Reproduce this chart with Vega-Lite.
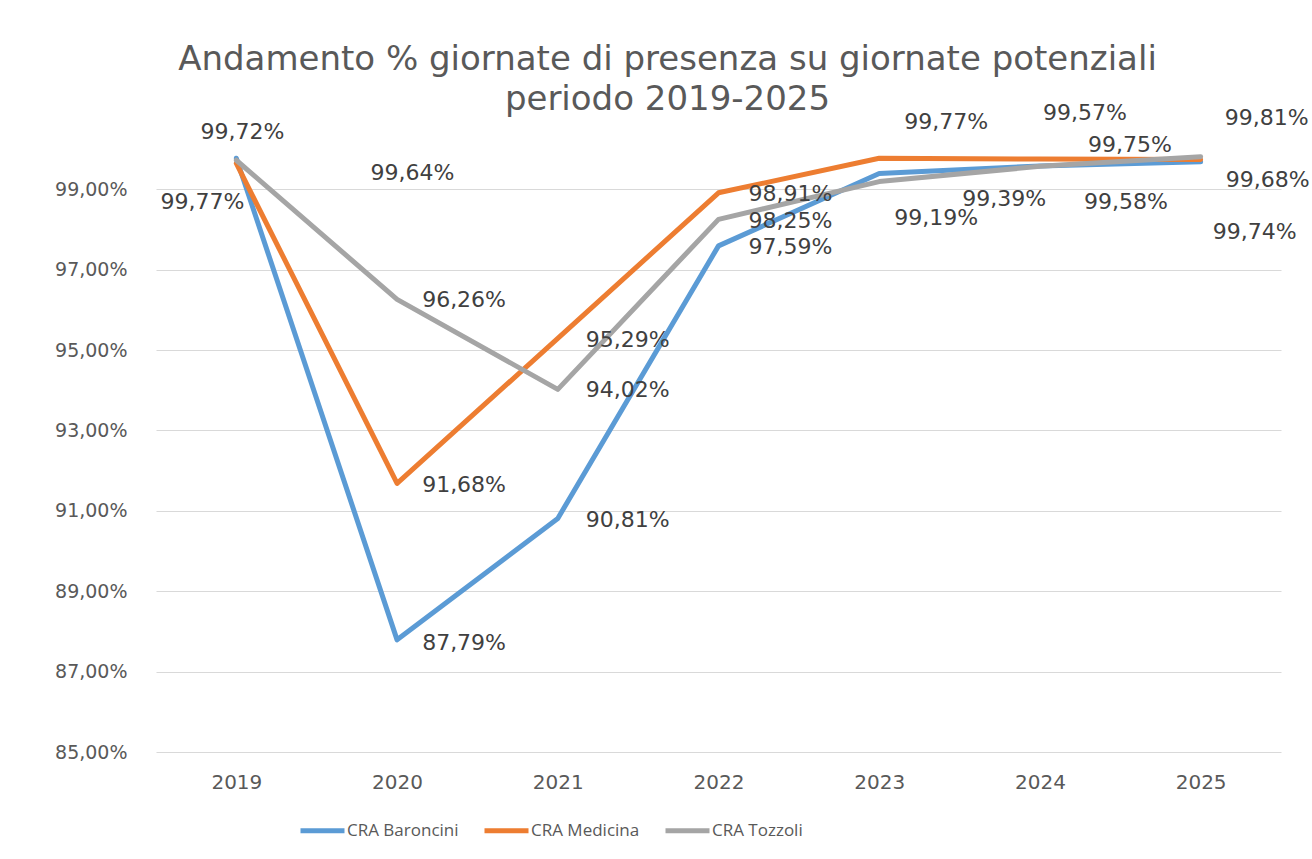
{
  "$schema": "https://vega.github.io/schema/vega-lite/v6.json",
  "autosize": {"type": "none"},
  "width": 1125,
  "height": 603,
  "padding": {"left": 156, "top": 149, "right": 31, "bottom": 107},
  "background": "white",
  "config": {
    "locale": {"number": {"decimal": ",", "thousands": ".", "grouping": [3], "currency": ["", " €"]}},
    "view": {"stroke": null},
    "font": "DejaVu Sans"
  },
  "title": {
    "text": ["Andamento % giornate di presenza su giornate potenziali", "periodo 2019-2025"],
    "fontSize": 34,
    "fontWeight": "normal",
    "color": "#595959",
    "font": "DejaVu Sans",
    "anchor": "middle",
    "frame": "group",
    "dx": -51,
    "dy": 79,
    "lineHeight": 40,
    "baseline": "bottom",
    "offset": 30
  },
  "data": {
    "values": [
      {"anno": "2019", "serie": "CRA Baroncini", "valore": 0.9977},
      {"anno": "2020", "serie": "CRA Baroncini", "valore": 0.8779},
      {"anno": "2021", "serie": "CRA Baroncini", "valore": 0.9081},
      {"anno": "2022", "serie": "CRA Baroncini", "valore": 0.9759},
      {"anno": "2023", "serie": "CRA Baroncini", "valore": 0.9939},
      {"anno": "2024", "serie": "CRA Baroncini", "valore": 0.9958},
      {"anno": "2025", "serie": "CRA Baroncini", "valore": 0.9968},
      {"anno": "2019", "serie": "CRA Medicina", "valore": 0.9964},
      {"anno": "2020", "serie": "CRA Medicina", "valore": 0.9168},
      {"anno": "2021", "serie": "CRA Medicina", "valore": 0.9529},
      {"anno": "2022", "serie": "CRA Medicina", "valore": 0.9891},
      {"anno": "2023", "serie": "CRA Medicina", "valore": 0.9977},
      {"anno": "2024", "serie": "CRA Medicina", "valore": 0.9975},
      {"anno": "2025", "serie": "CRA Medicina", "valore": 0.9974},
      {"anno": "2019", "serie": "CRA Tozzoli", "valore": 0.9972},
      {"anno": "2020", "serie": "CRA Tozzoli", "valore": 0.9626},
      {"anno": "2021", "serie": "CRA Tozzoli", "valore": 0.9402},
      {"anno": "2022", "serie": "CRA Tozzoli", "valore": 0.9825},
      {"anno": "2023", "serie": "CRA Tozzoli", "valore": 0.9919},
      {"anno": "2024", "serie": "CRA Tozzoli", "valore": 0.9957},
      {"anno": "2025", "serie": "CRA Tozzoli", "valore": 0.9981}
    ]
  },
  "encoding": {
    "x": {
      "field": "anno", "type": "ordinal",
      "scale": {"type": "point", "padding": 0.5},
      "axis": {"title": null, "labelAngle": 0, "domain": false, "ticks": false, "labelFontSize": 20, "labelColor": "#595959", "labelPadding": 20, "labelFont": "DejaVu Sans"}
    },
    "y": {
      "field": "valore", "type": "quantitative",
      "scale": {"domain": [0.85, 1.0], "nice": false, "zero": false},
      "axis": {"title": null, "values": [0.85, 0.87, 0.89, 0.91, 0.93, 0.95, 0.97, 0.99], "format": ".2%", "domain": false, "ticks": false, "labelFontSize": 19, "labelColor": "#595959", "labelPadding": 29, "labelFont": "DejaVu Sans", "gridColor": "#d9d9d9", "gridWidth": 1}
    }
  },
  "layer": [
    {
      "mark": {"type": "line", "strokeWidth": 5, "strokeJoin": "round", "strokeCap": "round"},
      "encoding": {
        "color": {
          "field": "serie", "type": "nominal",
          "scale": {"domain": ["CRA Baroncini", "CRA Medicina", "CRA Tozzoli"], "range": ["#5B9BD5", "#ED7D31", "#A5A5A5"]},
          "legend": {"title": null, "orient": "none", "direction": "horizontal", "legendX": 142, "legendY": 657, "symbolType": "stroke", "symbolSize": 1936, "symbolStrokeWidth": 5, "labelFontSize": 17, "labelColor": "#595959", "labelFont": "Open Sans", "labelOffset": 0, "columnPadding": 15}
        }
      }
    },
    {"transform": [{"filter": "datum.serie==='CRA Baroncini' && datum.anno==='2019'"}], "mark": {"type": "text", "dx": -34, "dy": 44, "fontSize": 22, "color": "#404040"}, "encoding": {"text": {"field": "valore", "format": ".2%"}}},
    {"transform": [{"filter": "datum.serie==='CRA Baroncini' && datum.anno==='2020'"}], "mark": {"type": "text", "dx": 67, "dy": 3, "fontSize": 22, "color": "#404040"}, "encoding": {"text": {"field": "valore", "format": ".2%"}}},
    {"transform": [{"filter": "datum.serie==='CRA Baroncini' && datum.anno==='2021'"}], "mark": {"type": "text", "dx": 70, "dy": 2, "fontSize": 22, "color": "#404040"}, "encoding": {"text": {"field": "valore", "format": ".2%"}}},
    {"transform": [{"filter": "datum.serie==='CRA Baroncini' && datum.anno==='2022'"}], "mark": {"type": "text", "dx": 72, "dy": 1, "fontSize": 22, "color": "#404040"}, "encoding": {"text": {"field": "valore", "format": ".2%"}}},
    {"transform": [{"filter": "datum.serie==='CRA Baroncini' && datum.anno==='2023'"}], "mark": {"type": "text", "dx": 125, "dy": 25, "fontSize": 22, "color": "#404040"}, "encoding": {"text": {"field": "valore", "format": ".2%"}}},
    {"transform": [{"filter": "datum.serie==='CRA Baroncini' && datum.anno==='2024'"}], "mark": {"type": "text", "dx": 86, "dy": 36, "fontSize": 22, "color": "#404040"}, "encoding": {"text": {"field": "valore", "format": ".2%"}}},
    {"transform": [{"filter": "datum.serie==='CRA Baroncini' && datum.anno==='2025'"}], "mark": {"type": "text", "dx": 67, "dy": 18, "fontSize": 22, "color": "#404040"}, "encoding": {"text": {"field": "valore", "format": ".2%"}}},
    {"transform": [{"filter": "datum.serie==='CRA Medicina' && datum.anno==='2019'"}], "mark": {"type": "text", "dx": 176, "dy": 10, "fontSize": 22, "color": "#404040"}, "encoding": {"text": {"field": "valore", "format": ".2%"}}},
    {"transform": [{"filter": "datum.serie==='CRA Medicina' && datum.anno==='2020'"}], "mark": {"type": "text", "dx": 67, "dy": 2, "fontSize": 22, "color": "#404040"}, "encoding": {"text": {"field": "valore", "format": ".2%"}}},
    {"transform": [{"filter": "datum.serie==='CRA Medicina' && datum.anno==='2021'"}], "mark": {"type": "text", "dx": 70, "dy": 2, "fontSize": 22, "color": "#404040"}, "encoding": {"text": {"field": "valore", "format": ".2%"}}},
    {"transform": [{"filter": "datum.serie==='CRA Medicina' && datum.anno==='2022'"}], "mark": {"type": "text", "dx": 72, "dy": 1, "fontSize": 22, "color": "#404040"}, "encoding": {"text": {"field": "valore", "format": ".2%"}}},
    {"transform": [{"filter": "datum.serie==='CRA Medicina' && datum.anno==='2023'"}], "mark": {"type": "text", "dx": 67, "dy": -36, "fontSize": 22, "color": "#404040"}, "encoding": {"text": {"field": "valore", "format": ".2%"}}},
    {"transform": [{"filter": "datum.serie==='CRA Medicina' && datum.anno==='2024'"}], "mark": {"type": "text", "dx": 90, "dy": -14, "fontSize": 22, "color": "#404040"}, "encoding": {"text": {"field": "valore", "format": ".2%"}}},
    {"transform": [{"filter": "datum.serie==='CRA Medicina' && datum.anno==='2025'"}], "mark": {"type": "text", "dx": 54, "dy": 73, "fontSize": 22, "color": "#404040"}, "encoding": {"text": {"field": "valore", "format": ".2%"}}},
    {"transform": [{"filter": "datum.serie==='CRA Tozzoli' && datum.anno==='2019'"}], "mark": {"type": "text", "dx": 6, "dy": -28, "fontSize": 22, "color": "#404040"}, "encoding": {"text": {"field": "valore", "format": ".2%"}}},
    {"transform": [{"filter": "datum.serie==='CRA Tozzoli' && datum.anno==='2020'"}], "mark": {"type": "text", "dx": 67, "dy": 1, "fontSize": 22, "color": "#404040"}, "encoding": {"text": {"field": "valore", "format": ".2%"}}},
    {"transform": [{"filter": "datum.serie==='CRA Tozzoli' && datum.anno==='2021'"}], "mark": {"type": "text", "dx": 70, "dy": 1, "fontSize": 22, "color": "#404040"}, "encoding": {"text": {"field": "valore", "format": ".2%"}}},
    {"transform": [{"filter": "datum.serie==='CRA Tozzoli' && datum.anno==='2022'"}], "mark": {"type": "text", "dx": 72, "dy": 2, "fontSize": 22, "color": "#404040"}, "encoding": {"text": {"field": "valore", "format": ".2%"}}},
    {"transform": [{"filter": "datum.serie==='CRA Tozzoli' && datum.anno==='2023'"}], "mark": {"type": "text", "dx": 57, "dy": 36, "fontSize": 22, "color": "#404040"}, "encoding": {"text": {"field": "valore", "format": ".2%"}}},
    {"transform": [{"filter": "datum.serie==='CRA Tozzoli' && datum.anno==='2024'"}], "mark": {"type": "text", "dx": 45, "dy": -53, "fontSize": 22, "color": "#404040"}, "encoding": {"text": {"field": "valore", "format": ".2%"}}},
    {"transform": [{"filter": "datum.serie==='CRA Tozzoli' && datum.anno==='2025'"}], "mark": {"type": "text", "dx": 66, "dy": -39, "fontSize": 22, "color": "#404040"}, "encoding": {"text": {"field": "valore", "format": ".2%"}}}
  ]
}
